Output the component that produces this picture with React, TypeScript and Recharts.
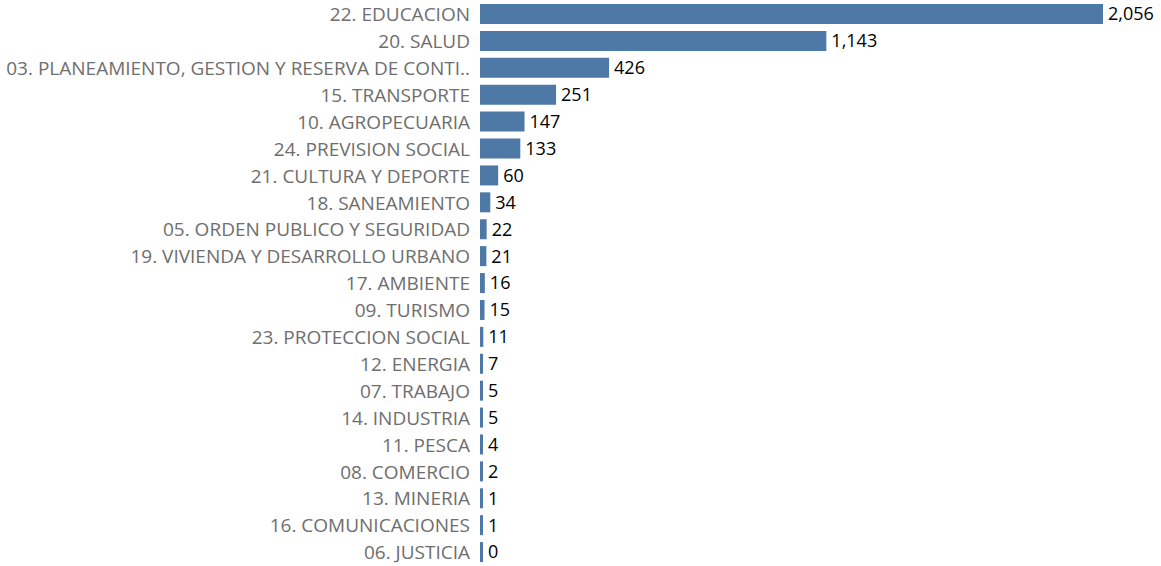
import React from 'react';
import { BarChart, Bar, XAxis, YAxis, LabelList } from 'recharts';

const categories = [
  '22. EDUCACION',
  '20. SALUD',
  '03. PLANEAMIENTO, GESTION Y RESERVA DE CONTI..',
  '15. TRANSPORTE',
  '10. AGROPECUARIA',
  '24. PREVISION SOCIAL',
  '21. CULTURA Y DEPORTE',
  '18. SANEAMIENTO',
  '05. ORDEN PUBLICO Y SEGURIDAD',
  '19. VIVIENDA Y DESARROLLO URBANO',
  '17. AMBIENTE',
  '09. TURISMO',
  '23. PROTECCION SOCIAL',
  '12. ENERGIA',
  '07. TRABAJO',
  '14. INDUSTRIA',
  '11. PESCA',
  '08. COMERCIO',
  '13. MINERIA',
  '16. COMUNICACIONES',
  '06. JUSTICIA',
];

const values = [2056, 1143, 426, 251, 147, 133, 60, 34, 22, 21, 16, 15, 11, 7, 5, 5, 4, 2, 1, 1, 0];

const data = categories.map((name, i) => ({ name, value: values[i] }));

const fmt = (v: number) => v.toLocaleString('en-US');

export default function App() {
  return (
    <div style={{ position: 'absolute', left: 0, top: 0, fontFamily: '"Open Sans", sans-serif' }}>
      <BarChart
        width={1161}
        height={566}
        data={data}
        layout="vertical"
        margin={{ top: 1, right: 58, bottom: 0, left: 0 }}
        barSize={20}
      >
        <XAxis type="number" hide domain={[0, 2056]} />
        <YAxis
          type="category"
          dataKey="name"
          width={480}
          axisLine={false}
          tickLine={false}
          tickMargin={4}
          interval={0}
          tick={{ fill: '#6e6e6e', fontSize: 19 }}
        />
        <Bar dataKey="value" fill="#4e79a7" minPointSize={3} isAnimationActive={false}>
          <LabelList
            dataKey="value"
            position="right"
            offset={5}
            formatter={(v: any) => fmt(Number(v))}
            style={{ fill: '#000', fontSize: 18 }}
          />
        </Bar>
      </BarChart>
    </div>
  );
}
